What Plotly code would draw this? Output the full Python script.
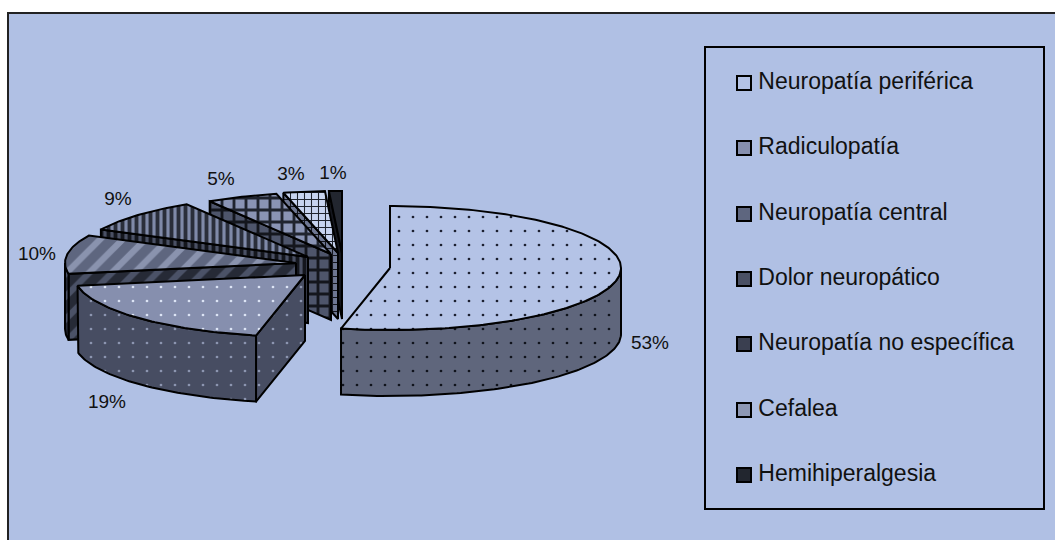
import math
import plotly.graph_objects as go

categories = ["Neuropatía periférica", "Radiculopatía", "Neuropatía central", "Dolor neuropático",
              "Neuropatía no específica", "Cefalea", "Hemihiperalgesia"]
values = [53.4, 18.8, 10.1, 8.9, 5.0, 2.9, 0.9]

# projection of the tilted pie, in page pixels
CX, CY, RX, RY, DEPTH = 340, 255, 231, 62, 66
explode = [(50, 13), (-35, 20), (-44, 8), (-32, 2), (-9, -1), (-2, -2), (2, -2)]
label_pos = [(650, 344), (107, 403), (37, 255), (118, 200), (221, 180), (291, 175), (333, 174)]
legend_y = [83, 148, 214, 279, 344, 410, 475]

top_style = [
    dict(shape=".", bgcolor="#B4C3E6", fgcolor="#1c2030", size=14, solidity=0.03),
    dict(shape=".", bgcolor="#868FAE", fgcolor="#DCE4F5", size=14, solidity=0.03),
    dict(shape="/", bgcolor="#5E667F", fgcolor="#8A93AE", size=16, solidity=0.4),
    dict(shape="|", bgcolor="#7F89A8", fgcolor="#2A2E3A", size=7, solidity=0.55),
    dict(shape="+", bgcolor="#8A94B4", fgcolor="#20242E", size=12, solidity=0.42),
    dict(shape="+", bgcolor="#C8D4F0", fgcolor="#20242E", size=7, solidity=0.28),
    dict(shape=".", bgcolor="#22262F", fgcolor="#A9B4D0", size=14, solidity=0.03),
]
side_style = [
    dict(shape=".", bgcolor="#5F667C", fgcolor="#10131C", size=14, solidity=0.03),
    dict(shape=".", bgcolor="#474D62", fgcolor="#8C95B0", size=14, solidity=0.03),
    dict(shape="/", bgcolor="#262A36", fgcolor="#4B5267", size=16, solidity=0.4),
    dict(shape="|", bgcolor="#4A5064", fgcolor="#14161D", size=7, solidity=0.55),
    dict(shape="+", bgcolor="#4E556B", fgcolor="#14161D", size=12, solidity=0.42),
    dict(shape="+", bgcolor="#6E7792", fgcolor="#14161D", size=7, solidity=0.28),
    dict(shape=".", bgcolor="#14161D", fgcolor="#7D86A0", size=14, solidity=0.03),
]
swatch = ["#B4C3E6", "#868FAE", "#5E667F", "#4A5064", "#3A3F50", "#8E98B4", "#22262F"]


def pt(c, a):
    r = math.radians(a)
    return c[0] + RX * math.sin(r), c[1] - RY * math.cos(r)


def arc(c, a0, a1):
    n = max(2, int(abs(a1 - a0)) + 1)
    return [pt(c, a0 + (a1 - a0) * i / (n - 1)) for i in range(n)]


fig = go.Figure()


def poly(points, style):
    xs = [p[0] for p in points] + [points[0][0]]
    ys = [p[1] for p in points] + [points[0][1]]
    fig.add_trace(go.Scatter(x=xs, y=ys, mode="lines", fill="toself",
                             fillcolor=style["bgcolor"], fillpattern=dict(fillmode="replace", **style),
                             line=dict(color="#000000", width=2), hoverinfo="skip", showlegend=False))


total = sum(values)
starts, a = [], 0.0
for v in values:
    starts.append(a)
    a += v / total * 360

for i in reversed(range(len(values))):
    a0 = starts[i]
    a1 = a0 + values[i] / total * 360
    c = (CX + explode[i][0], CY + explode[i][1])
    if a0 > 0:  # radial wall facing the viewer
        p = pt(c, a0)
        poly([c, p, (p[0], p[1] + DEPTH), (c[0], c[1] + DEPTH)], side_style[i])
    lo, hi = max(a0, 90), min(a1, 270)
    if hi > lo:  # rim
        rim = arc(c, lo, hi)
        poly(rim + [(x, y + DEPTH) for x, y in reversed(rim)], side_style[i])
    poly([c] + arc(c, a0, a1), top_style[i])

fig.add_trace(go.Scatter(
    x=[p[0] for p in label_pos], y=[p[1] for p in label_pos], mode="text",
    text=[f"{v:.0f}%" for v in values], textposition="middle center",
    textfont=dict(family="Liberation Sans", size=19, color="#111111"),
    hoverinfo="skip", showlegend=False))

fig.add_trace(go.Scatter(
    x=[744] * len(categories), y=legend_y, mode="markers+text",
    marker=dict(symbol="square", size=14, color=swatch, line=dict(color="#000000", width=2)),
    text=["&#8201;" + c for c in categories], textposition="middle right",
    textfont=dict(family="Liberation Sans", size=23, color="#111111"),
    hoverinfo="skip", showlegend=False))

fig.update_layout(
    width=1055, height=540, margin=dict(l=0, r=0, t=0, b=0),
    paper_bgcolor="#FFFFFF", plot_bgcolor="#FFFFFF", showlegend=False,
    xaxis=dict(range=[0, 1055], visible=False, fixedrange=True),
    yaxis=dict(range=[540, 0], visible=False, fixedrange=True),
    shapes=[
        dict(type="rect", x0=8, y0=13, x1=1062, y1=548, fillcolor="#B0C0E4",
             line=dict(color="#222222", width=2), layer="below"),
        dict(type="rect", x0=705, y0=47, x1=1044, y1=509, fillcolor="rgba(0,0,0,0)",
             line=dict(color="#000000", width=2), layer="below"),
    ],
)
fig.write_html("out.html", config=dict(displayModeBar=False),
               post_script="document.body.style.margin='0';document.documentElement.style.overflow='hidden';")
